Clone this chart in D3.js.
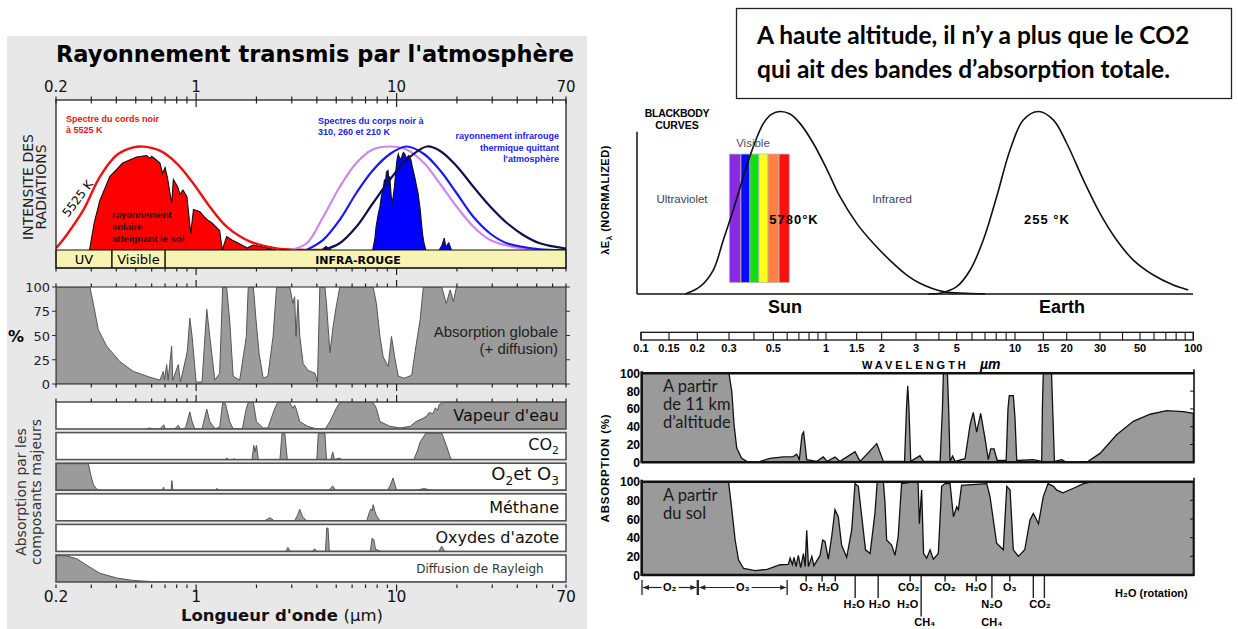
<!DOCTYPE html>
<html><head><meta charset="utf-8">
<script src="https://cdn.jsdelivr.net/npm/d3@7"></script>
<style>html,body{margin:0;padding:0;background:#fff;}svg{display:block}</style>
</head><body>
<svg id="chart" width="1238" height="629"></svg>
<script>
// ======================= DATA (left chart) =======================
const leftTickValues = [0.2,0.3,0.4,0.5,0.6,0.7,0.8,0.9,1,2,3,4,5,6,7,8,9,10,20,30,40,50,60,70];
const leftTickLabels = [0.2,1,10,70];
const percentTicks = [0,25,50,75,100];
const bandNames = ["UV","Visible","INFRA-ROUGE"];
const bandEdges = [0.2,0.38,0.7,70];

const blackbody5525 = [[0.2,1.1],[0.226,10],[0.274,26.7],[0.3315,48.9],[0.402,63.3],[0.486,68.4],[0.545,68.9],[0.66,66.2],[0.80,57.8],[0.968,44.4],[1.17,28.9],[1.42,15.6],[1.86,5.6],[2.52,1.1],[3.3,0.2],[4.5,0]];
const solarAtGround = [[0.294,0],[0.31,18],[0.331,33],[0.371,49],[0.43,58],[0.505,62],[0.566,63],[0.59,61],[0.6,62.5],[0.62,61],[0.66,58],[0.68,51],[0.70,55],[0.72,48],[0.755,31],[0.77,47],[0.81,42],[0.83,37],[0.86,40],[0.90,35.5],[0.94,11],[0.97,27],[1.045,25.5],[1.1,22],[1.14,20],[1.2,18],[1.31,13],[1.35,0],[1.42,9],[1.51,6.7],[1.6,5],[1.8,1.3],[1.92,3.3],[2.2,1.8],[2.5,0]];
const thermalOut = [[7.6,0],[7.8,8],[7.9,15.5],[8.1,24],[8.26,29],[8.4,36],[8.6,42],[8.7,47],[8.8,45],[8.9,52],[9.06,53],[9.15,47],[9.25,49],[9.4,36],[9.5,31],[9.6,35],[9.75,42],[9.9,52],[10,58],[10.1,62],[10.2,64],[10.4,60],[10.6,62],[10.8,65],[11.0,64],[11.15,61],[11.3,62],[11.5,63],[11.8,60],[12.0,55],[12.2,51],[12.4,47],[12.6,42],[12.8,38],[13.0,31],[13.15,26],[13.3,18],[13.5,10],[13.7,4.5],[14.0,0]];
const thermalSmallA = [[4.2,0],[4.45,2.5],[4.7,0]];
const thermalSmallB = [[16.3,0],[16.8,3],[17.3,8],[17.6,2],[18.2,5],[18.8,0]];
const blackbody310 = [[2.93,0],[3.56,4.5],[4.3,22],[5.2,42],[6.3,58],[7.6,67],[9.27,69],[11.2,67],[13.7,58],[16.5,44],[19.9,29],[24.2,15.5],[29.3,6.7],[42.8,1],[70,0]];
const blackbody260 = [[3.56,0],[4.3,6.7],[5.2,20],[6.3,38],[7.6,53],[9.27,64],[11.2,69],[13.7,64],[16.5,53],[19.9,38],[24.2,22],[29.3,11],[35.5,4.5],[51.8,0.5],[70,0]];
const blackbody210 = [[4.3,0],[5.2,4.5],[6.3,15.5],[7.6,31],[9.27,47],[11.2,60],[14.2,69],[16.5,66],[19.9,56],[24.2,42],[29.3,29],[35.5,18],[42.8,10],[51.8,4.5],[70,1]];

const globalAbsorption = [[0.2,100],[0.295,100],[0.307,83],[0.325,56],[0.358,39],[0.417,23],[0.486,13],[0.588,7],[0.66,4],[0.686,13],[0.695,4],[0.713,20],[0.725,4],[0.755,39],[0.765,4],[0.815,20],[0.835,2],[0.89,27],[0.905,35],[0.93,68],[0.955,49],[1.0,2],[1.07,2],[1.13,77],[1.17,49],[1.24,4],[1.31,11],[1.357,100],[1.42,100],[1.47,66],[1.53,8],[1.65,4],[1.78,49],[1.82,100],[1.93,100],[1.99,66],[2.06,32],[2.16,6],[2.28,8],[2.42,49],[2.52,100],[2.93,100],[3.04,83],[3.1,90],[3.15,49],[3.22,87],[3.29,49],[3.42,21],[3.62,14],[3.92,11],[4.03,2],[4.14,100],[4.39,100],[4.47,83],[4.65,32],[4.82,59],[5.0,80],[5.21,100],[7.64,100],[7.93,83],[8.26,49],[8.57,28],[9.08,18],[9.43,49],[9.78,28],[10.2,8],[10.9,6],[11.9,9],[12.4,35],[13.1,66],[13.6,100],[16.8,100],[17.1,94],[17.7,83],[18.5,97],[19.2,85],[19.9,100],[70,100]];

const componentNames = ["Vapeur d'eau","CO₂","O₂et O₃","Méthane","Oxydes d'azote","Diffusion de Rayleigh"];
const waterVapour = [[0.56,0],[0.588,4],[0.61,0],[0.66,0],[0.69,16],[0.70,0],[0.78,0],[0.815,14],[0.835,0],[0.87,0],[0.89,10],[0.93,65],[0.955,28],[0.985,0],[1.07,0],[1.13,75],[1.17,28],[1.24,2],[1.31,6],[1.357,100],[1.40,96],[1.47,28],[1.53,0],[1.70,0],[1.78,78],[1.82,100],[1.93,100],[2.0,28],[2.16,4],[2.28,4],[2.47,78],[2.55,100],[2.93,100],[3.04,78],[3.1,90],[3.15,78],[3.29,28],[3.6,10],[4.0,0],[4.4,0],[4.65,28],[5.0,78],[5.21,100],[7.64,100],[7.93,78],[8.26,28],[9.27,10],[10.4,4],[11.7,10],[12.5,28],[13.6,41],[14.2,50],[14.5,62],[15.2,58],[15.6,80],[16.0,70],[16.3,92],[17.1,100],[70,100]];
const co2 = [[1.40,0],[1.42,6],[1.45,0],[1.52,0],[1.55,3],[1.58,0],[1.9,0],[1.94,54],[1.97,30],[2.0,54],[2.04,5],[2.07,0],[2.62,0],[2.68,98],[2.77,98],[2.85,0],[4.0,0],[4.07,100],[4.39,100],[4.47,0],[4.7,0],[4.8,29],[4.9,0],[5.21,6],[5.3,0],[12.2,0],[12.8,40],[13.1,66],[14,100],[16.8,100],[17.7,54],[18.6,5],[19.0,0]];
const o2o3 = [[0.2,100],[0.29,100],[0.298,58],[0.307,22],[0.319,4],[0.331,0],[0.68,0],[0.688,12],[0.695,0],[0.75,0],[0.757,36],[0.765,0],[1.25,0],[1.27,7],[1.29,0],[4.6,0],[4.8,16],[4.95,0],[9.0,0],[9.27,16],[9.6,46],[9.85,16],[10.0,0],[12.5,0],[13.7,6],[15,0],[70,0]];
const methane = [[2.2,0],[2.33,12],[2.45,0],[3.1,0],[3.2,20],[3.29,43],[3.4,15],[3.56,0],[7.1,0],[7.3,30],[7.45,45],[7.55,38],[7.64,61],[7.8,35],[7.93,20],[8.26,0]];
const nitrogenOxides = [[2.8,0],[2.87,15],[2.95,0],[3.8,0],[3.9,10],[4.0,0],[4.42,0],[4.48,88],[4.55,88],[4.62,0],[7.4,0],[7.55,50],[7.7,45],[7.85,8],[8.4,0],[16.2,0],[16.8,19],[17.4,0]];
const rayleigh = [[0.2,100],[0.226,98],[0.254,88],[0.285,63],[0.331,33],[0.402,15],[0.486,6],[0.588,2],[0.77,0],[70,0]];

// ======================= DATA (right chart) =======================
const waveTickLabels = [0.1,0.15,0.2,0.3,0.5,1,1.5,2,3,5,10,15,20,30,50,100];
const waveBarTicks = [0.1,0.15,0.2,0.3,0.4,0.5,0.6,0.7,0.8,0.9,1,1.5,2,3,4,5,6,7,8,9,10,15,20,30,40,50,60,70,80,90,100];
const visibleStripes = [[0.301,0.344],[0.344,0.382],[0.382,0.424],[0.424,0.47],[0.47,0.539],[0.539,0.617]];
const sunCurve = [[0.177,0],[0.207,4],[0.245,13],[0.279,29.6],[0.315,46],[0.354,64.3],[0.397,80.7],[0.446,93.5],[0.491,98.6],[0.546,100],[0.623,98.6],[0.71,93.5],[0.846,82.6],[1.015,68],[1.203,53.3],[1.5,38.7],[1.815,27.8],[2.2,18.6],[2.69,10.4],[3.15,5.9],[4.23,1.3],[5.63,0.4],[7,0]];
const earthCurve = [[3.5,0],[4.06,0.4],[5,4],[5.86,13],[6.86,29.6],[8.04,53.3],[9.43,78.9],[11.26,95.3],[13.96,100],[17,95.3],[20,82.6],[24.5,62.5],[30,44.2],[37.1,29.6],[45.9,18.6],[59.5,10.4],[77.1,4.9],[93.7,2.2]];
const absorptionTicks = [0,20,40,60,80,100];
const absorption11km = [[0.1,100],[0.30,100],[0.31,79],[0.318,42],[0.328,16],[0.347,4.5],[0.375,0],[0.43,1],[0.48,4.5],[0.57,6],[0.65,6.4],[0.68,9],[0.704,3],[0.73,31],[0.745,34],[0.776,3],[0.885,1],[0.965,6],[1.017,1],[1.126,6],[1.203,1],[1.467,12],[1.56,1],[1.89,21],[2.04,1],[2.62,1],[2.68,60],[2.72,86],[2.76,60],[2.82,1],[3.15,7.5],[3.3,1],[4.06,1],[4.18,60],[4.23,100],[4.45,100],[4.52,60],[4.6,1],[4.75,7],[4.9,1],[5.52,4],[5.86,42],[6.09,56],[6.34,34],[6.65,55],[7.0,27],[7.28,3],[7.49,15],[7.79,15],[8.1,2],[9.0,2],[9.2,60],[9.34,75],[9.8,75],[10.0,50],[10.25,2],[13.0,3],[14.66,1],[14.8,60],[15,100],[16.6,100],[16.9,50],[17.2,1],[18.8,3],[20,0],[25.5,0],[30,10],[37.1,31],[45.9,46],[57,54],[70.7,58],[87.8,57],[100,55]];
const absorptionGround = [[0.1,100],[0.298,100],[0.31,70],[0.322,37.5],[0.335,16],[0.355,7],[0.405,4.6],[0.466,6],[0.546,11],[0.609,11.4],[0.624,18],[0.643,11],[0.657,19],[0.674,9],[0.695,21],[0.717,8],[0.743,23],[0.76,9],[0.776,48],[0.794,9],[0.83,20],[0.853,10],[0.925,21],[0.957,37.5],[0.987,36],[1.031,17],[1.078,41],[1.126,70],[1.176,62.5],[1.229,32],[1.314,19],[1.404,48],[1.467,98],[1.528,95],[1.59,62.5],[1.66,27],[1.75,23],[1.85,66],[1.9,100],[2.04,100],[2.08,77],[2.12,37.5],[2.25,32],[2.34,21],[2.43,41],[2.53,98],[3.0,100],[3.08,98],[3.13,55],[3.22,91],[3.3,23],[3.43,18],[3.58,27],[3.73,17],[3.97,23],[4.14,95],[4.32,98],[4.6,98],[4.8,62.5],[5.0,73],[5.1,70],[5.3,96],[7.15,98],[7.43,84],[8.04,34],[8.7,27],[9.07,95],[9.43,91],[9.8,27],[10.5,20],[11.5,27],[12.4,59],[13.0,66],[14.0,55],[15,84],[15.9,98],[17,95],[17.7,91],[19.1,88],[21.7,93],[24.5,98],[27.6,100],[100,100]];
// gas annotation ticks: [wavelength, depth class]
const gasTicks = [[0.77,1],[0.95,1],[1.13,1],[1.47,2],[1.92,2],[2.8,1],[3.2,3],[4.32,1],[6.3,1],[7.6,2],[9.4,1],[13.0,2],[15.2,2]];
// gas labels: [text, wavelength, row]
const gasLabels = [["O₂",0.77,0],["H₂O",1.03,0],["H₂O",1.45,1],["H₂O",1.95,1],["CO₂",2.75,0],["H₂O",2.72,1],["CH₄",3.35,2],["CO₂",4.32,0],["H₂O",6.3,0],["N₂O",7.6,1],["CH₄",7.6,2],["O₃",9.4,0],["CO₂",14.3,1]];
const gasRanges = [["O₂",0.1,0.2],["O₃",0.2,0.6]];
const rotationLabel = ["H₂O (rotation)",58];

// ======================= DRAW =======================
const svg = d3.select("#chart");
const FL = "'DejaVu Sans', Verdana, sans-serif";
const FA = "'Liberation Sans', Arial, Helvetica, sans-serif";
const FC = "Lato, 'Open Sans', sans-serif";
const defs = svg.append("defs");
function clip(id,x,y,w,h){ defs.append("clipPath").attr("id",id).append("rect").attr("x",x).attr("y",y).attr("width",w).attr("height",h); return "url(#"+id+")"; }
const areaOf = (x,y,curve)=> d3.area().x(d=>x(d[0])).y0(y(0)).y1(d=>y(d[1])).curve(curve||d3.curveLinear);
const lineOf = (x,y,curve)=> d3.line().x(d=>x(d[0])).y(d=>y(d[1])).curve(curve||d3.curveLinear);
const SUB = {"₂":"2","₃":"3","₄":"4"};
// writes a label, turning unicode subscript digits into real lowered, smaller tspans
function richText(sel, str, size){
  let buf = "", down = false;
  const flush = ()=>{ if(buf){ sel.append("tspan").text(buf); buf=""; } };
  for (const ch of str){
    if (SUB[ch]){ flush(); sel.append("tspan").attr("font-size",size*0.68).attr("dy",size*0.28).text(SUB[ch]); down = true; }
    else { if(down){ flush(); sel.append("tspan").attr("dy",-size*0.28).text(ch); down=false; } else buf += ch; }
  }
  flush();
}

// ---------- LEFT CHART ----------
const L = svg.append("g");
L.append("rect").attr("x",7).attr("y",36).attr("width",580).attr("height",593).attr("fill","#e8e8e8");
L.append("text").attr("x",315).attr("y",62).attr("text-anchor","middle").attr("font-family",FL).attr("font-weight","bold").attr("font-size",22.5).text("Rayonnement transmis par l'atmosphère");

const xL = d3.scaleLog().domain([0.2,70]).range([56,566]);
L.selectAll(".tl").data(leftTickLabels).join("text").attr("x",d=>xL(d)).attr("y",92).attr("text-anchor","middle").attr("font-family",FL).attr("font-size",15).attr("fill","#111").text(d=>d);

// top panel
const yT = d3.scaleLinear().domain([0,100]).range([250,100]);
L.append("rect").attr("x",56).attr("y",100).attr("width",510).attr("height",150).attr("fill","#fff");
const gT = L.append("g").attr("clip-path",clip("cT",56,100,510,150));
gT.append("path").datum(solarAtGround).attr("d",areaOf(xL,yT)).attr("fill","#ff0000").attr("stroke","#111").attr("stroke-width",1.1);
gT.append("path").datum(thermalOut).attr("d",areaOf(xL,yT)).attr("fill","#0000ff").attr("stroke","#111").attr("stroke-width",1.1);
[thermalSmallA,thermalSmallB].forEach(a=>gT.append("path").datum(a).attr("d",areaOf(xL,yT)).attr("fill","#0000ff").attr("stroke","#111").attr("stroke-width",1));
gT.append("path").datum(blackbody5525).attr("d",lineOf(xL,yT,d3.curveCatmullRom)).attr("fill","none").attr("stroke","#ee1111").attr("stroke-width",2.4);
gT.append("path").datum(blackbody310).attr("d",lineOf(xL,yT,d3.curveCatmullRom)).attr("fill","none").attr("stroke","#cc88ee").attr("stroke-width",2.2);
gT.append("path").datum(blackbody260).attr("d",lineOf(xL,yT,d3.curveCatmullRom)).attr("fill","none").attr("stroke","#1a1aee").attr("stroke-width",2.2);
gT.append("path").datum(blackbody210).attr("d",lineOf(xL,yT,d3.curveCatmullRom)).attr("fill","none").attr("stroke","#101050").attr("stroke-width",2.2);
// band row
L.append("rect").attr("x",56).attr("y",250).attr("width",510).attr("height",18).attr("fill","#f9f3b3").attr("stroke","#111").attr("stroke-width",1);
L.selectAll(".bd").data(bandEdges.slice(1,3)).join("line").attr("x1",d=>xL(d)).attr("x2",d=>xL(d)).attr("y1",250).attr("y2",268).attr("stroke","#111").attr("stroke-width",1.5);
L.selectAll(".bn").data(bandNames).join("text").attr("x",(d,i)=> i<2 ? (xL(bandEdges[i])+xL(bandEdges[i+1]))/2 : 358).attr("y",264)
  .attr("text-anchor","middle").attr("font-family",FL).attr("font-size",(d,i)=>i<2?13:11).attr("font-weight",(d,i)=>i<2?"normal":"bold").text(d=>d);
L.append("rect").attr("x",56).attr("y",100).attr("width",510).attr("height",168).attr("fill","none").attr("stroke","#111").attr("stroke-width",1.2);
// texts in top panel
const tr = L.append("g").attr("font-family",FA).attr("font-weight","bold").attr("font-size",9);
tr.append("text").attr("x",66).attr("y",122).attr("fill","#ee1111").text("Spectre du cords noir");
tr.append("text").attr("x",66).attr("y",133).attr("fill","#ee1111").text("à 5525 K");
["rayonnement","solaire","atteignant le sol"].forEach((t,i)=>tr.append("text").attr("x",112).attr("y",218+i*12).attr("fill","#111").attr("font-size",9.5).text(t));
tr.append("text").attr("x",318).attr("y",124).attr("fill","#1a1aee").text("Spectres du corps noir à");
tr.append("text").attr("x",318).attr("y",135).attr("fill","#1a1aee").text("310, 260 et 210 K");
["rayonnement infrarouge","thermique quittant","l'atmosphère"].forEach((t,i)=>tr.append("text").attr("x",559).attr("y",139+i*11.5).attr("text-anchor","end").attr("fill","#1a1aee").text(t));
L.append("text").attr("transform","translate(81,201) rotate(-53)").attr("text-anchor","middle").attr("font-family",FL).attr("font-size",12).text("5525 K");
// y label top
L.append("text").attr("transform","translate(33,187) rotate(-90)").attr("text-anchor","middle").attr("font-family",FL).attr("font-size",14).attr("fill","#222").text("INTENSITE DES");
L.append("text").attr("transform","translate(46,187) rotate(-90)").attr("text-anchor","middle").attr("font-family",FL).attr("font-size",14).attr("fill","#222").text("RADIATIONS");

// global absorption panel
const yG = d3.scaleLinear().domain([0,100]).range([384,287]);
L.append("rect").attr("x",56).attr("y",287).attr("width",510).attr("height",97).attr("fill","#fff");
const gG = L.append("g").attr("clip-path",clip("cG",56,287,510,97));
gG.append("path").datum(globalAbsorption).attr("d",areaOf(xL,yG)).attr("fill","#9b9b9b").attr("stroke","#555").attr("stroke-width",1);
L.append("rect").attr("x",56).attr("y",287).attr("width",510).attr("height",97).attr("fill","none").attr("stroke","#444").attr("stroke-width",1.2);
L.selectAll(".pt").data(percentTicks).join("text").attr("x",50).attr("y",d=>yG(d)+5).attr("text-anchor","end").attr("font-family",FL).attr("font-size",13).attr("fill","#222").text(d=>d);
L.selectAll(".ptl").data(percentTicks).join("line").attr("x1",52).attr("x2",56).attr("y1",d=>yG(d)).attr("y2",d=>yG(d)).attr("stroke","#333");
L.selectAll(".ptr").data(percentTicks).join("line").attr("x1",566).attr("x2",570).attr("y1",d=>yG(d)).attr("y2",d=>yG(d)).attr("stroke","#333");
L.append("text").attr("x",8).attr("y",342).attr("font-family",FL).attr("font-weight","bold").attr("font-size",16).text("%");
L.append("text").attr("x",558).attr("y",337).attr("text-anchor","end").attr("font-family",FA).attr("font-size",15).attr("fill","#222").text("Absorption  globale");
L.append("text").attr("x",558).attr("y",354).attr("text-anchor","end").attr("font-family",FA).attr("font-size",15).attr("fill","#222").text("(+ diffusion)");

// component rows
const compData = [waterVapour,co2,o2o3,methane,nitrogenOxides,rayleigh];
compData.forEach((data,i)=>{
  const top = 402 + i*30.6, h = 27;
  const yC = d3.scaleLinear().domain([0,100]).range([top+h,top+0.5]);
  L.append("rect").attr("x",56).attr("y",top).attr("width",510).attr("height",h).attr("fill","#fff");
  L.append("g").attr("clip-path",clip("cc"+i,56,top,510,h)).append("path").datum(data).attr("d",areaOf(xL,yC)).attr("fill","#9b9b9b").attr("stroke","#555").attr("stroke-width",1);
  L.append("rect").attr("x",56).attr("y",top).attr("width",510).attr("height",h).attr("fill","none").attr("stroke","#555").attr("stroke-width",1.6);
  const last = i===componentNames.length-1;
  const size = last?12:(i===2?18:16);
  const t = L.append("text").attr("x",last?480:559).attr("y",top+(last?18:(i===1||i===2?17:19))).attr("text-anchor",last?"middle":"end")
   .attr("font-family",FL).attr("font-size",size).attr("fill",last?"#333":"#111");
  richText(t, componentNames[i], size);
});
L.append("text").attr("transform","translate(26,492) rotate(-90)").attr("text-anchor","middle").attr("font-family",FL).attr("font-size",14).attr("fill","#333").text("Absorption par les");
L.append("text").attr("transform","translate(41,492) rotate(-90)").attr("text-anchor","middle").attr("font-family",FL).attr("font-size",14).attr("fill","#333").text("composants majeurs");

// x ticks (left)
function lticks(y0,dir){
  L.append("g").selectAll("line").data(leftTickValues).join("line")
   .attr("x1",d=>xL(d)).attr("x2",d=>xL(d)).attr("y1",y0).attr("y2",d=> y0+dir*((d===1||d===10)?7:3.5)).attr("stroke","#222").attr("stroke-width",1.2);
}
lticks(100,1); lticks(100,-1); lticks(268,1); lticks(287,-1); lticks(384,1); lticks(402,-1); lticks(584.5,1);
L.selectAll(".bl").data(leftTickLabels).join("text").attr("x",d=>xL(d)).attr("y",602).attr("text-anchor","middle").attr("font-family",FL).attr("font-size",15.5).attr("fill","#111").text(d=>d);
const xt = L.append("text").attr("x",282).attr("y",621).attr("text-anchor","middle").attr("font-family",FL).attr("font-size",16.5).attr("fill","#111");
xt.append("tspan").attr("font-weight","bold").text("Longueur d'onde ");
xt.append("tspan").text("(µm)");

// ---------- RIGHT CHART ----------
const R = svg.append("g");
// title box
R.append("rect").attr("x",736.5).attr("y",8.5).attr("width",495).attr("height",90).attr("fill","#fff").attr("stroke","#222").attr("stroke-width",1.3);
R.append("text").attr("x",757).attr("y",44).attr("font-family",FC).attr("font-weight","bold").attr("font-size",24.5).text("A haute altitude, il n’y a plus que le CO2");
R.append("text").attr("x",757).attr("y",78).attr("font-family",FC).attr("font-weight","bold").attr("font-size",24.5).text("qui ait des bandes d’absorption totale.");

const xR = d3.scaleLog()
  .domain([0.1,0.15,0.2,0.3,0.5,1,1.5,2,3,5,10,15,20,30,50,100])
  .range([641,669,697.3,729,773.3,826,856.7,881.7,916,956.7,1015,1043.3,1066.7,1100,1140,1193.3]);
const yB = d3.scaleLinear().domain([0,100]).range([294,111.5]);

// blackbody panel
const stripeColors = ["#8a2be2","#0a0aff","#11dd11","#ffff22","#ff8040","#ff1010"];
R.selectAll(".st").data(visibleStripes).join("rect").attr("x",d=>xR(d[0])).attr("width",d=>xR(d[1])-xR(d[0])).attr("y",yB(76.7)).attr("height",yB(6.2)-yB(76.7))
  .attr("fill",(d,i)=>stripeColors[i]).attr("stroke","#bbb").attr("stroke-width",0.8);
R.append("line").attr("x1",637).attr("x2",637).attr("y1",131.7).attr("y2",294).attr("stroke","#111").attr("stroke-width",1.5);
R.append("line").attr("x1",637).attr("x2",1193).attr("y1",294).attr("y2",294).attr("stroke","#111").attr("stroke-width",1.5);
R.append("path").datum(sunCurve).attr("d",lineOf(xR,yB,d3.curveCatmullRom)).attr("fill","none").attr("stroke","#111").attr("stroke-width",1.6);
R.append("path").datum(earthCurve).attr("d",lineOf(xR,yB,d3.curveCatmullRom)).attr("fill","none").attr("stroke","#111").attr("stroke-width",1.6);
R.append("text").attr("x",677).attr("y",117).attr("text-anchor","middle").attr("font-family",FA).attr("font-weight","bold").attr("font-size",10.5).attr("letter-spacing",-0.3).text("BLACKBODY");
R.append("text").attr("x",677).attr("y",128.5).attr("text-anchor","middle").attr("font-family",FA).attr("font-weight","bold").attr("font-size",10.5).text("CURVES");
R.append("text").attr("x",753).attr("y",147).attr("text-anchor","middle").attr("font-family",FA).attr("font-size",11.5).attr("fill","#4a5068").text("Visible");
R.append("text").attr("x",682).attr("y",203).attr("text-anchor","middle").attr("font-family",FA).attr("font-size",11.5).attr("fill","#3a4058").text("Ultraviolet");
R.append("text").attr("x",892).attr("y",203).attr("text-anchor","middle").attr("font-family",FA).attr("font-size",11.5).attr("fill","#3a4058").text("Infrared");
R.append("text").attr("x",794).attr("y",224).attr("text-anchor","middle").attr("font-family",FA).attr("font-weight","bold").attr("font-size",13).attr("letter-spacing",1).text("5780°K");
R.append("text").attr("x",1047).attr("y",224).attr("text-anchor","middle").attr("font-family",FA).attr("font-weight","bold").attr("font-size",13).attr("letter-spacing",1).text("255 °K");
R.append("text").attr("x",785).attr("y",313).attr("text-anchor","middle").attr("font-family",FA).attr("font-weight","bold").attr("font-size",18).text("Sun");
R.append("text").attr("x",1062).attr("y",313).attr("text-anchor","middle").attr("font-family",FA).attr("font-weight","bold").attr("font-size",18).text("Earth");
const yl = R.append("text").attr("transform","translate(609,200) rotate(-90)").attr("text-anchor","middle").attr("font-family",FA).attr("font-weight","bold").attr("font-size",11).attr("letter-spacing",0.5);
yl.append("tspan").text("λE");
yl.append("tspan").attr("font-size",8).attr("dy",3).text("λ");
yl.append("tspan").attr("dy",-3).text(" (NORMALIZED)");

// wavelength bar
R.append("rect").attr("x",xR(0.1)).attr("y",332.3).attr("width",xR(100)-xR(0.1)).attr("height",7.7).attr("fill","#fff").attr("stroke","#111").attr("stroke-width",1.3);
R.selectAll(".wt").data(waveBarTicks).join("line").attr("x1",d=>xR(d)).attr("x2",d=>xR(d)).attr("y1",332.3).attr("y2",340).attr("stroke","#111").attr("stroke-width",1.1);
R.selectAll(".wl").data(waveTickLabels).join("text").attr("x",d=>xR(d)).attr("y",352).attr("text-anchor","middle").attr("font-family",FA).attr("font-weight","bold").attr("font-size",11).text(d=>d);
R.append("text").attr("x",862).attr("y",369).attr("font-family",FA).attr("font-weight","bold").attr("font-size",11).attr("letter-spacing",3).text("WAVELENGTH");
R.append("text").attr("x",980).attr("y",369).attr("font-family",FA).attr("font-weight","bold").attr("font-style","italic").attr("font-size",14).text("µm");

// absorption panels
function absPanel(id,data,top,bottom,lines){
  const y = d3.scaleLinear().domain([0,100]).range([bottom,top]);
  const x0 = xR(0.1)+0.7, x1 = 1194;
  R.append("g").attr("clip-path",clip(id,x0,top,x1-x0,bottom-top)).append("path").datum(data).attr("d",areaOf(xR,y)).attr("fill","#9a9a9a").attr("stroke","#111").attr("stroke-width",1.3);
  R.append("line").attr("x1",x0).attr("x2",x1).attr("y1",top).attr("y2",top).attr("stroke","#111").attr("stroke-width",2.6);
  R.append("line").attr("x1",x0).attr("x2",x1).attr("y1",bottom).attr("y2",bottom).attr("stroke","#111").attr("stroke-width",2.6);
  R.append("line").attr("x1",x0).attr("x2",x0).attr("y1",top-2).attr("y2",bottom+1).attr("stroke","#111").attr("stroke-width",2.6);
  R.append("line").attr("x1",x1).attr("x2",x1).attr("y1",top-4).attr("y2",bottom+1).attr("stroke","#111").attr("stroke-width",1.6);
  R.selectAll(".at"+id).data(absorptionTicks).join("text").attr("x",640).attr("y",d=>y(d)+4.5).attr("text-anchor","end").attr("font-family",FA).attr("font-weight","bold").attr("font-size",12).text(d=>d);
  R.selectAll(".al"+id).data(absorptionTicks).join("line").attr("x1",x0-3).attr("x2",x0).attr("y1",d=>y(d)).attr("y2",d=>y(d)).attr("stroke","#555");
  R.selectAll(".ar"+id).data(absorptionTicks.slice(1,5)).join("line").attr("x1",x1-4).attr("x2",x1).attr("y1",d=>y(d)).attr("y2",d=>y(d)).attr("stroke","#111");
  lines.forEach((t,i)=>R.append("text").attr("x",663).attr("y",top+19+i*18).attr("font-family",FC).attr("font-size",16.5).attr("fill","#1a1a1a").text(t));
  return y;
}
absPanel("a1",absorption11km,373.3,462.3,["A partir","de 11 km","d’altitude"]);
absPanel("a2",absorptionGround,481.7,575,["A partir","du sol"]);
R.append("text").attr("transform","translate(609,468) rotate(-90)").attr("text-anchor","middle").attr("font-family",FA).attr("font-weight","bold").attr("font-size",11.5).attr("letter-spacing",0.8).text("ABSORPTION (%)");

// gas annotations
const tickEnd = [0,581.5,598,616.5];
R.selectAll(".gt").data(gasTicks).join("line").attr("x1",d=>xR(d[0])).attr("x2",d=>xR(d[0])).attr("y1",576).attr("y2",d=>tickEnd[d[1]]).attr("stroke","#222").attr("stroke-width",1.4);
const rowY = [591,608,626];
R.selectAll(".gl").data(gasLabels).join("text").attr("x",d=>xR(d[1])).attr("y",d=>rowY[d[2]]).attr("text-anchor","middle").attr("font-family",FA).attr("font-weight","bold").attr("font-size",11).text(d=>d[0]);
R.append("text").attr("x",xR(rotationLabel[1])).attr("y",597).attr("text-anchor","middle").attr("font-family",FA).attr("font-weight","bold").attr("font-size",11).text(rotationLabel[0]);
defs.append("marker").attr("id","arr").attr("viewBox","0 0 10 10").attr("refX",10).attr("refY",5).attr("markerWidth",6).attr("markerHeight",5).attr("orient","auto")
  .append("path").attr("d","M0,1 L10,5 L0,9 Z").attr("fill","#222");
gasRanges.forEach(r=>{
  const a = xR(r[1])+2, b = xR(r[2])-1, m = (a+b)/2;
  R.append("line").attr("x1",xR(r[1])+1).attr("x2",xR(r[1])+1).attr("y1",580).attr("y2",595).attr("stroke","#222").attr("stroke-width",1.3);
  R.append("line").attr("x1",xR(r[2])).attr("x2",xR(r[2])).attr("y1",580).attr("y2",595).attr("stroke","#222").attr("stroke-width",1.3);
  R.append("line").attr("x1",m-8).attr("x2",a).attr("y1",587.5).attr("y2",587.5).attr("stroke","#222").attr("stroke-width",1.2).attr("marker-end","url(#arr)");
  R.append("line").attr("x1",m+9).attr("x2",b).attr("y1",587.5).attr("y2",587.5).attr("stroke","#222").attr("stroke-width",1.2).attr("marker-end","url(#arr)");
  R.append("text").attr("x",m).attr("y",591).attr("text-anchor","middle").attr("font-family",FA).attr("font-weight","bold").attr("font-size",11).text(r[0]);
});
</script>
</body></html>
